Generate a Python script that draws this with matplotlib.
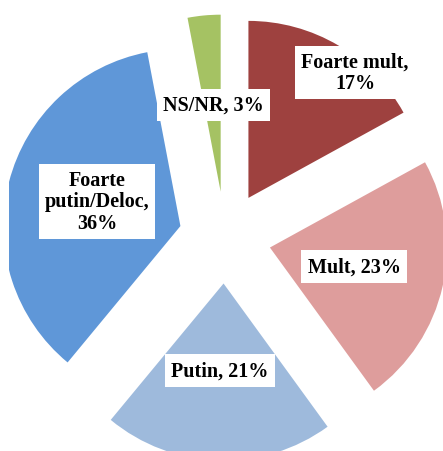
import matplotlib
matplotlib.use("Agg")
import matplotlib.pyplot as plt

# Date
categorii = ["Foarte mult", "Mult", "Putin", "Foarte putin/Deloc", "NS/NR"]
procente = [17, 23, 21, 36, 3]
etichete = ["Foarte mult,\n17%", "Mult, 23%", "Putin, 21%",
            "Foarte\nputin/Deloc,\n36%", "NS/NR, 3%"]
culori = ["#9E413F", "#DE9D9C", "#9EBADC", "#5F97D8", "#A5C263"]

# pozitia etichetelor (pixeli, y de sus)
pozitii = [(355, 73.5), (354, 267.5), (220, 371.5), (97, 202.5), (213.5, 106)]

W, H = 443, 452
raza = 177
stanga = 9  # graficul original e taiat in stanga
fig = plt.figure(figsize=(W / 100, H / 100), dpi=100)
ax = fig.add_axes([stanga / W, 0, 1 - stanga / W, 1])

# explode e in unitati de date (nu se scaleaza cu raza)
felii, _ = ax.pie(procente, colors=culori, startangle=90, counterclock=False,
                  explode=[0.26 * raza] * len(procente), radius=raza,
                  center=(225, H - 238.5), wedgeprops=dict(linewidth=0))
for f in felii:
    f.set_clip_on(True)
    f.set_clip_path(ax.patch)

for text, (x, y) in zip(etichete, pozitii):
    ax.text(x, H - y, text, ha="center", va="center", fontsize=14.5,
            fontweight="bold", family="Liberation Serif", linespacing=1.1,
            bbox=dict(boxstyle="square,pad=0.3", fc="white", ec="none"))

ax.set_xlim(stanga, W)
ax.set_ylim(0, H)
ax.set_aspect("auto")
ax.axis("off")

fig.savefig("out.png", dpi=100)
